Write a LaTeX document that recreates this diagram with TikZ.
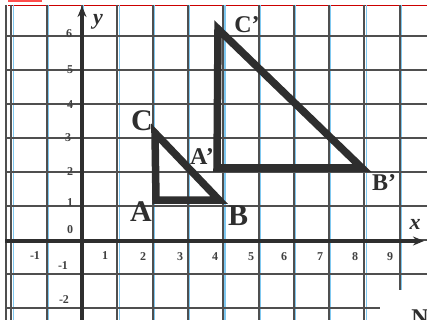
\documentclass[tikz,border=0pt]{standalone}
\usepackage{fontspec}
\setmainfont{Liberation Serif}
\usetikzlibrary{arrows.meta}
\definecolor{gridgray}{HTML}{4F4F4F}
\definecolor{gridblue}{HTML}{7FC8F0}
\definecolor{ink}{HTML}{2E2E2E}
\definecolor{numgray}{HTML}{404040}
\tikzset{
  vline/.style={draw=gridgray, line width=2pt},
  vblue/.style={draw=gridblue, line width=1.1pt},
  hline/.style={draw=gridgray, line width=2.2pt},
  axisline/.style={draw=ink, line width=3.4pt, -{Stealth[length=11pt,width=9pt]}},
  tri/.style={draw=ink, line width=7.5pt, line join=miter},
  biglab/.style={font=\fontsize{30}{31}\selectfont\bfseries, text=ink, inner sep=0pt},
  primelab/.style={font=\fontsize{24}{26}\selectfont\bfseries, text=ink, inner sep=0pt},
  numlab/.style={font=\fontsize{12}{13}\selectfont\bfseries, text=numgray, inner sep=0pt},
  axlab/.style={font=\fontsize{22}{23}\selectfont\bfseries\itshape, text=ink, inner sep=0pt}
}
\begin{document}
\begin{tikzpicture}[x=1pt,y=-1pt]
\useasboundingbox[fill=white] (0,0) rectangle (427,320);
% top red line
\draw[red!80!black, line width=0.8pt] (8,5) -- (427,5);
\draw[red!70, line width=2pt] (8,1) -- (42,1);
% vertical grid lines
\foreach \i in {-2,...,8} {
  \draw[vblue] ({83.8+35.3*\i},5) -- ({83.8+35.3*\i},320);
  \draw[vline] ({82+35.3*\i},5) -- ({82+35.3*\i},320);
}
\draw[vblue] ({83.8+35.3*9},5) -- ({83.8+35.3*9},290);
\draw[vline] ({82+35.3*9},5) -- ({82+35.3*9},290);
% horizontal grid lines
\foreach \j in {-1,...,6} {
  \draw[hline] (7,{240-34*\j}) -- (427,{240-34*\j});
}
\draw[hline] (7,308) -- (380,308);
% left border
\draw[gridgray, line width=1.2pt] (6,5) -- (6,320);
% axes
\coordinate (xs) at (5,241);
\coordinate (xe) at (424,241);
\coordinate (ys) at (82,320);
\coordinate (ye) at (82,6);
\draw[axisline] (xs) -- (xe);
\draw[axisline] (ys) -- (ye);
\node[axlab] (xl) at (415,224) {x};
\node[axlab] (yl) at (98,22) {y};
% numbers on y axis
\node[numlab] (y6) at (69,34) {6};
\node[numlab] (y5) at (70,70) {5};
\node[numlab] (y4) at (70,105) {4};
\node[numlab] (y3) at (68,138) {3};
\node[numlab] (y2) at (70,172) {2};
\node[numlab] (y1) at (70,203) {1};
\node[numlab] (y0) at (70,230) {0};
\node[numlab] (ym1) at (63,266) {-1};
\node[numlab] (ym2) at (64,300) {-2};
% numbers on x axis
\node[numlab] (xm1) at (35,256) {-1};
\node[numlab] (x1) at (105,256) {1};
\node[numlab] (x2) at (143,257) {2};
\node[numlab] (x3) at (180,257) {3};
\node[numlab] (x4) at (215,257) {4};
\node[numlab] (x5) at (251,257) {5};
\node[numlab] (x6) at (284,257) {6};
\node[numlab] (x7) at (320,257) {7};
\node[numlab] (x8) at (355,257) {8};
\node[numlab] (x9) at (390,257) {9};
% small triangle ABC
\coordinate (A) at (156,200);
\coordinate (B) at (219,200);
\coordinate (C) at (155,133);
\draw[tri] (A) -- (B) -- (C) -- cycle;
% big triangle A'B'C'
\coordinate (A2) at (217,168);
\coordinate (B2) at (362,168);
\coordinate (C2) at (218,29);
\draw[tri] (A2) -- (B2) -- (C2) -- cycle;
% labels
\node[biglab] (lC) at (142,121) {C};
\node[biglab] (lA) at (141,212) {A};
\node[biglab] (lB) at (238,216) {B};
\node[primelab] (lA2) at (202,157) {A’};
\node[primelab] (lC2) at (247,25) {C’};
\node[primelab] (lB2) at (384,183) {B’};
\node[primelab, anchor=north] (lN) at (420,310) {N};
\end{tikzpicture}
\end{document}
